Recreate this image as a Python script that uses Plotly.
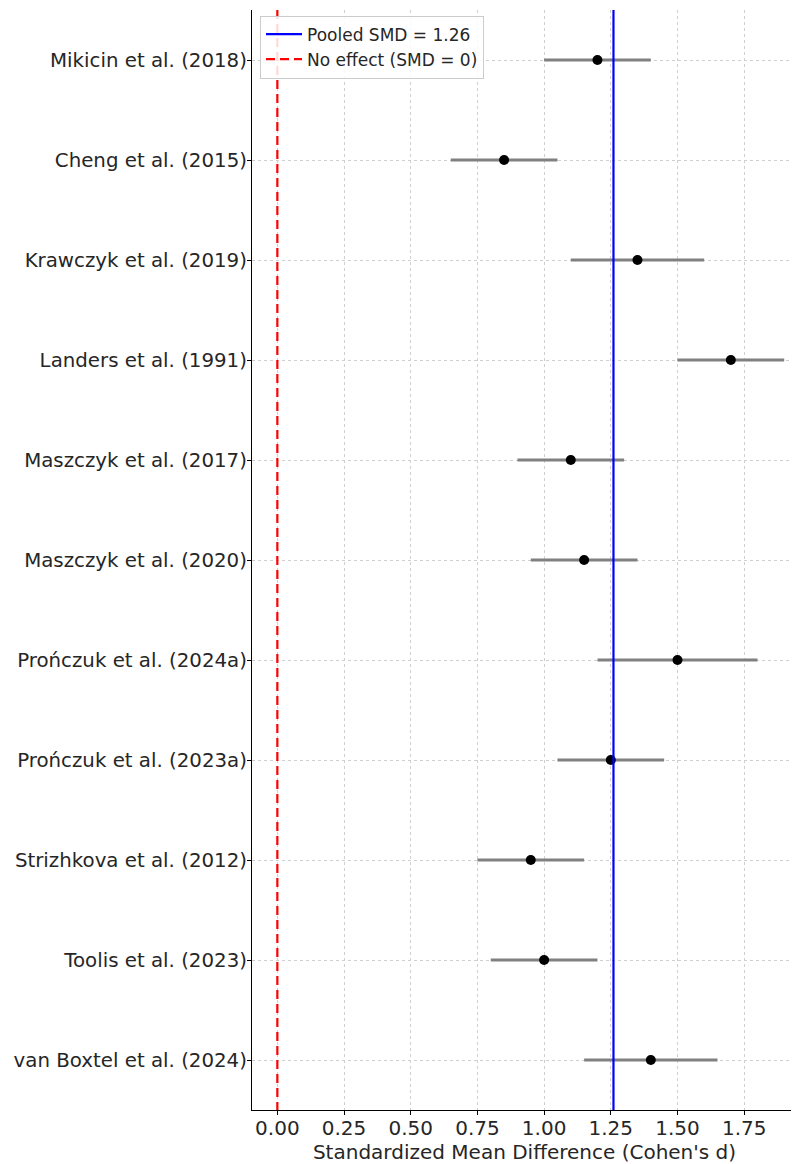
import plotly.graph_objects as go

studies = [
    "Mikicin et al. (2018)",
    "Cheng et al. (2015)",
    "Krawczyk et al. (2019)",
    "Landers et al. (1991)",
    "Maszczyk et al. (2017)",
    "Maszczyk et al. (2020)",
    "Prończuk et al. (2024a)",
    "Prończuk et al. (2023a)",
    "Strizhkova et al. (2012)",
    "Toolis et al. (2023)",
    "van Boxtel et al. (2024)",
]
smd = [1.20, 0.85, 1.35, 1.70, 1.10, 1.15, 1.50, 1.25, 0.95, 1.00, 1.40]
ci_low = [1.00, 0.65, 1.10, 1.50, 0.90, 0.95, 1.20, 1.05, 0.75, 0.80, 1.15]
ci_high = [1.40, 1.05, 1.60, 1.90, 1.30, 1.35, 1.80, 1.45, 1.15, 1.20, 1.65]
pooled_smd = 1.26
no_effect = 0.0
x_ticks = [0.00, 0.25, 0.50, 0.75, 1.00, 1.25, 1.50, 1.75]

ypos = list(range(len(studies)))
y_range = [len(studies) - 0.5, -0.5]

fig = go.Figure()

fig.add_trace(go.Scatter(
    x=smd, y=ypos, mode="markers",
    marker=dict(color="black", size=10),
    error_x=dict(
        type="data", symmetric=False,
        array=[h - m for h, m in zip(ci_high, smd)],
        arrayminus=[m - l for m, l in zip(smd, ci_low)],
        color="#808080", thickness=2.8, width=0,
    ),
    showlegend=False,
))

fig.add_trace(go.Scatter(
    x=[pooled_smd, pooled_smd], y=[y_range[1], y_range[0]], mode="lines",
    line=dict(color="blue", width=2.2),
    name=f"Pooled SMD = {pooled_smd:.2f}",
))
fig.add_trace(go.Scatter(
    x=[no_effect, no_effect], y=[y_range[1], y_range[0]], mode="lines",
    line=dict(color="red", width=2.2, dash="9px,5px"),
    name="No effect (SMD = 0)",
))

fig.update_layout(
    width=791, height=1156,
    margin=dict(l=244, r=2, t=2, b=54),
    plot_bgcolor="white", paper_bgcolor="white",
    font=dict(family="DejaVu Sans", size=20, color="#262626"),
    legend=dict(
        x=0.0147, y=0.995, xanchor="left", yanchor="top",
        bgcolor="rgba(255,255,255,0.85)", bordercolor="#cccccc", borderwidth=1,
        font=dict(size=17, color="#262626"),
        tracegroupgap=0, itemwidth=36,
    ),
    showlegend=True,
)

fig.update_xaxes(
    range=[-0.095, 1.948], automargin=False,
    tickvals=x_ticks, ticktext=[f"{v:.2f}" for v in x_ticks],
    showgrid=True, gridcolor="#cfcfcf", griddash="3px,3px", gridwidth=1,
    zeroline=False, showline=True, linecolor="black", linewidth=1.2,
    ticks="outside", ticklen=4, tickcolor="black",
    title=dict(text="Standardized Mean Difference (Cohen's d)", font=dict(size=20), standoff=3),
    tickfont=dict(size=20), ticklabelstandoff=-4,
)
fig.update_yaxes(
    range=y_range, automargin=False,
    tickvals=ypos, ticktext=studies,
    showgrid=True, gridcolor="#cfcfcf", griddash="3px,3px", gridwidth=1,
    zeroline=False, showline=True, linecolor="black", linewidth=1.2,
    ticks="outside", ticklen=4, tickcolor="black",
    tickfont=dict(size=19.8), ticklabelstandoff=-4,
)

fig.write_html("out.html")
